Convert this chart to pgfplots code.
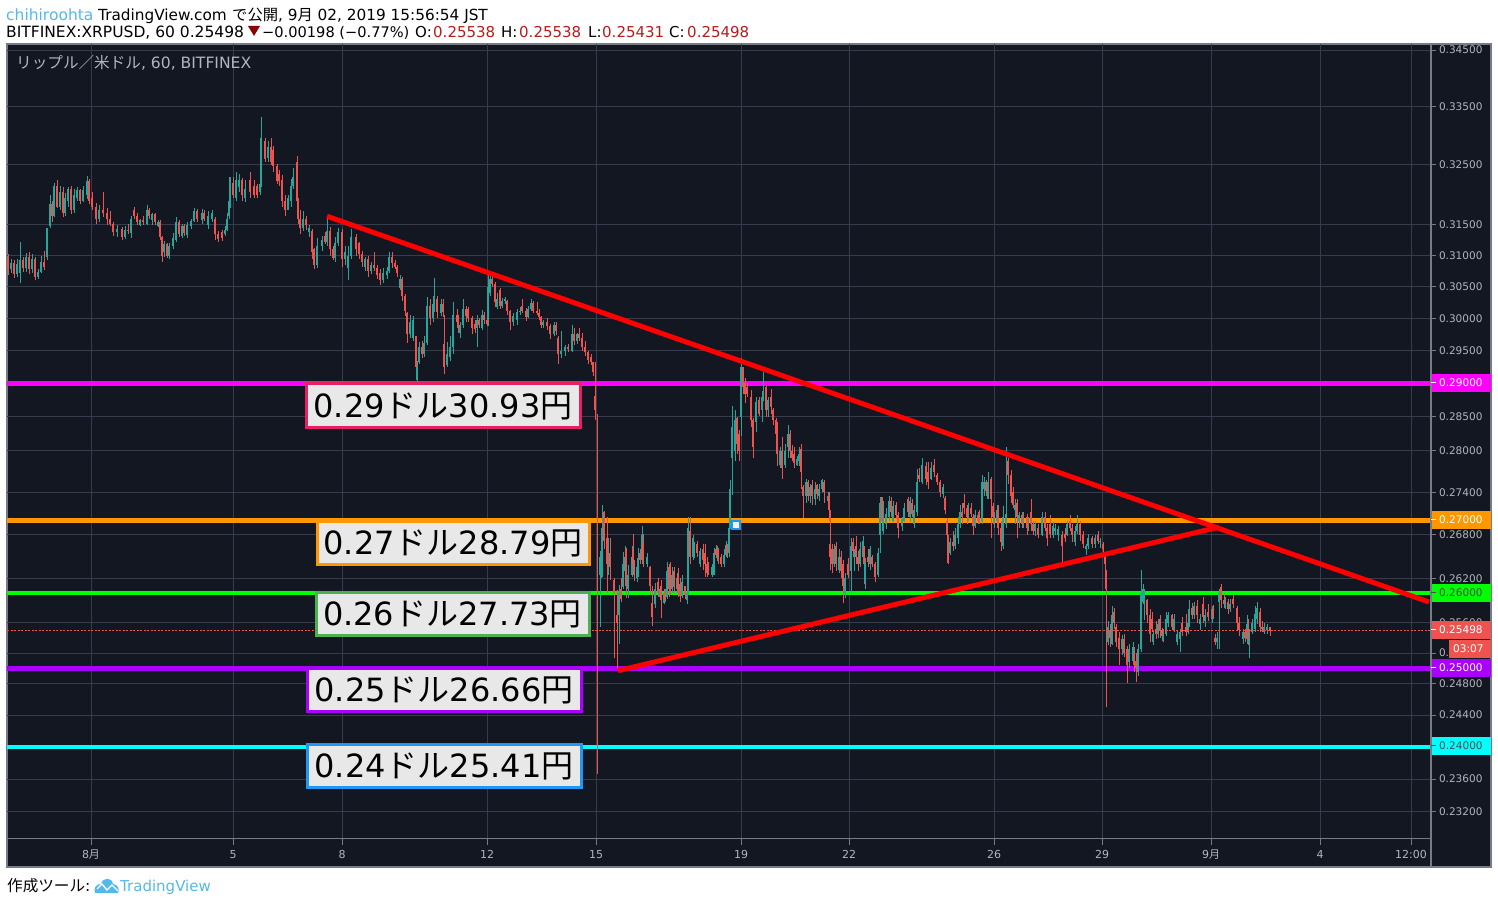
\documentclass[border=0pt]{standalone}
\usepackage{fontspec}
\usepackage{pgfplots}
\usepackage{pgfplotstable}
\pgfplotsset{compat=1.18}
\setmainfont{DejaVu Sans}
\newfontfamily\cjk{Noto Sans CJK JP}
\definecolor{bg}{HTML}{131722}
\definecolor{gridc}{HTML}{363C4E}
\definecolor{axc}{HTML}{787B86}
\definecolor{tickc}{HTML}{B2B5BE}
\definecolor{upc}{HTML}{26A69A}
\definecolor{dnc}{HTML}{EF5350}
\definecolor{tvblue}{HTML}{53B9EA}
\definecolor{darkred}{HTML}{B71C1C}
\definecolor{tridark}{HTML}{8B0000}
\definecolor{boxc}{HTML}{E8E8E8}
\definecolor{lmag}{HTML}{FF00FF}
\definecolor{lora}{HTML}{FF9800}
\definecolor{lgre}{HTML}{00FF00}
\definecolor{lpur}{HTML}{AA00FF}
\definecolor{lcya}{HTML}{00FFFF}
\definecolor{lpink}{HTML}{E91E63}
\definecolor{lgbox}{HTML}{4CAF50}
\definecolor{lblue}{HTML}{2196F3}
\definecolor{mfill}{HTML}{F0F3FA}
\pgfplotstableread{
x o h l c
8 .3092 .3102 .3068 .3078
11 .3078 .3095 .3072 .3088
14 .3088 .3092 .3064 .3070
17 .3070 .3094 .3066 .3086
20 .3072 .3122 .3056 .3092
23 .3092 .3098 .3074 .3080
26 .3080 .3104 .3074 .3098
29 .3098 .3106 .3070 .3078
32 .3078 .3102 .3072 .3094
35 .3094 .3098 .3060 .3066
38 .3066 .3078 .3062 .3074
41 .3074 .3100 .3072 .3090
44 .3090 .3108 .3076 .3082
47 .3098 .3145 .3092 .3145
50 .3148 .3199 .3145 .3185
52 .3185 .3190 .3155 .3165
54 .3165 .3219 .3162 .3215
57 .3215 .3225 .3178 .3180
60 .3180 .3215 .3175 .3205
63 .3205 .3212 .3162 .3170
65 .3170 .3203 .3165 .3195
68 .3190 .3213 .3180 .3210
71 .3210 .3215 .3168 .3175
74 .3175 .3210 .3170 .3200
77 .3195 .3212 .3190 .3208
80 .3208 .3210 .3185 .3190
83 .3190 .3215 .3188 .3208
87 .3200 .3231 .3192 .3222
89 .3222 .3226 .3185 .3190
92 .3195 .3205 .3175 .3180
96 .3180 .3186 .3152 .3160
99 .3160 .3183 .3155 .3175
103 .3175 .3205 .3162 .3170
107 .3170 .3178 .3150 .3160
110 .3160 .3172 .3148 .3152
113 .3152 .3155 .3132 .3138
117 .3138 .3150 .3130 .3144
122 .3144 .3146 .3125 .3130
125 .3130 .3148 .3126 .3142
128 .3142 .3152 .3135 .3140
131 .3136 .3165 .3128 .3160
134 .3175 .3180 .3160 .3165
137 .3165 .3170 .3150 .3155
140 .3150 .3160 .3148 .3158
143 .3158 .3165 .3150 .3155
147 .3152 .3182 .3150 .3175
149 .3175 .3178 .3160 .3165
152 .3158 .3170 .3150 .3168
155 .3168 .3170 .3150 .3155
158 .3148 .3158 .3146 .3155
160 .3155 .3158 .3125 .3130
162 .3130 .3132 .3090 .3100
164 .3105 .3124 .3098 .3118
167 .3118 .3120 .3096 .3100
169 .3100 .3120 .3094 .3115
173 .3115 .3136 .3110 .3128
176 .3125 .3162 .3122 .3155
179 .3155 .3158 .3130 .3135
182 .3132 .3152 .3128 .3148
184 .3148 .3152 .3132 .3136
187 .3134 .3155 .3128 .3150
191 .3148 .3160 .3144 .3156
194 .3156 .3178 .3154 .3172
197 .3172 .3176 .3155 .3160
202 .3158 .3176 .3152 .3170
204 .3170 .3174 .3156 .3160
208 .3150 .3172 .3144 .3165
212 .3160 .3175 .3155 .3170
215 .3160 .3162 .3125 .3135
218 .3135 .3140 .3122 .3126
222 .3138 .3142 .3124 .3128
225 .3135 .3148 .3132 .3142
227 .3142 .3170 .3140 .3160
229 .3165 .3229 .3160 .3190
230 .3186 .3229 .3178 .3220
233 .3220 .3230 .3195 .3200
236 .3195 .3238 .3190 .3225
239 .3212 .3235 .3205 .3225
242 .3225 .3228 .3190 .3200
245 .3195 .3225 .3188 .3210
250 .3225 .3238 .3195 .3205
254 .3215 .3225 .3195 .3200
257 .3215 .3218 .3195 .3200
260 .3205 .3235 .3200 .3218
261 .3215 .3331 .3212 .3295
265 .3290 .3295 .3255 .3260
268 .3262 .3290 .3255 .3280
271 .3280 .3295 .3250 .3255
273 .3275 .3282 .3238 .3248
277 .3248 .3252 .3218 .3222
279 .3235 .3242 .3215 .3222
282 .3225 .3232 .3180 .3190
285 .3190 .3200 .3165 .3175
288 .3175 .3200 .3175 .3195
291 .3190 .3226 .3180 .3215
293 .3215 .3245 .3210 .3230
297 .3255 .3265 .3185 .3190
298 .3190 .3195 .3152 .3160
300 .3160 .3175 .3135 .3145
303 .3145 .3172 .3140 .3160
306 .3160 .3165 .3142 .3150
309 .3138 .3150 .3130 .3145
312 .3140 .3143 .3095 .3105
314 .3110 .3112 .3078 .3085
317 .3085 .3128 .3080 .3115
322 .3115 .3132 .3108 .3125
325 .3132 .3138 .3118 .3122
327 .3122 .3163 .3115 .3140
330 .3140 .3147 .3100 .3110
333 .3110 .3115 .3092 .3096
335 .3096 .3130 .3090 .3120
338 .3120 .3145 .3115 .3138
342 .3138 .3143 .3082 .3095
345 .3095 .3115 .3085 .3105
348 .3080 .3115 .3061 .3100
351 .3100 .3143 .3095 .3130
356 .3130 .3135 .3100 .3110
359 .3120 .3122 .3095 .3102
362 .3102 .3108 .3082 .3090
365 .3082 .3098 .3075 .3095
368 .3095 .3100 .3066 .3075
371 .3075 .3090 .3070 .3085
374 .3085 .3105 .3075 .3080
377 .3080 .3085 .3062 .3068
380 .3072 .3078 .3052 .3060
383 .3060 .3080 .3056 .3072
387 .3068 .3082 .3062 .3075
389 .3075 .3105 .3072 .3098
392 .3098 .3105 .3080 .3088
395 .3088 .3092 .3078 .3082
397 .3082 .3084 .3065 .3072
400 .3048 .3068 .3045 .3062
402 .3062 .3066 .3028 .3035
405 .3035 .3038 .3004 .3012
407 .3008 .3010 .2962 .2975
410 .2975 .3005 .2970 .2995
413 .2970 .3004 .2965 .2998
416 .2972 .2973 .2911 .2925
417 .2905 .2935 .2901 .2928
419 .2932 .2963 .2930 .2955
422 .2955 .2965 .2938 .2945
424 .2945 .2972 .2940 .2962
427 .2962 .3033 .2958 .3020
430 .3020 .3030 .2990 .3000
433 .3000 .3036 .2995 .3022
434 .3015 .3064 .3010 .3030
437 .3030 .3036 .3000 .3010
441 .3008 .3030 .3003 .3022
443 .3022 .3030 .3002 .3010
444 .2960 .3005 .2915 .2925
447 .2928 .2963 .2925 .2945
450 .2940 .2972 .2935 .2955
453 .2955 .3026 .2945 .3005
457 .3005 .3015 .2990 .2995
458 .2995 .3005 .2978 .2985
460 .2978 .2995 .2970 .2990
463 .2990 .3031 .2985 .3015
466 .3015 .3020 .2995 .3003
468 .3015 .3018 .2995 .3000
472 .3000 .3003 .2976 .2985
475 .2992 .2998 .2978 .2984
477 .2985 .3005 .2955 .2998
479 .2998 .3000 .2985 .2990
482 .2985 .3014 .2982 .3006
484 .3006 .3010 .2992 .2998
487 .2998 .3005 .2988 .2992
488 .2995 .3069 .2988 .3050
490 .3040 .3067 .3035 .3062
492 .3062 .3069 .3050 .3055
495 .3055 .3057 .3018 .3025
497 .3018 .3040 .3015 .3030
500 .3045 .3048 .3015 .3020
502 .3020 .3032 .3016 .3028
505 .3028 .3034 .3022 .3030
507 .3028 .3029 .3006 .3012
510 .3012 .3014 .2982 .2995
513 .2995 .3008 .2988 .3004
517 .2998 .3015 .2990 .3010
520 .3010 .3018 .3005 .3012
522 .3020 .3030 .3008 .3012
526 .3012 .3016 .2996 .3002
528 .3002 .3020 .3000 .3015
531 .3015 .3030 .3012 .3024
533 .3024 .3028 .3008 .3012
537 .3012 .3025 .3005 .3008
539 .3008 .3015 .2997 .3002
541 .3002 .3004 .2985 .2990
543 .2990 .2998 .2985 .2995
547 .2995 .3000 .2982 .2988
550 .2988 .2992 .2968 .2975
554 .2975 .2995 .2972 .2990
556 .2990 .2994 .2974 .2980
558 .2970 .2972 .2930 .2945
561 .2945 .2980 .2938 .2950
565 .2950 .2958 .2942 .2955
568 .2955 .2960 .2948 .2952
572 .2950 .2989 .2948 .2975
574 .2975 .2985 .2958 .2965
577 .2965 .2978 .2960 .2975
579 .2975 .2985 .2965 .2970
582 .2970 .2978 .2950 .2955
585 .2955 .2965 .2942 .2948
588 .2948 .2950 .2930 .2936
591 .2940 .2945 .2928 .2932
593 .2932 .2933 .2912 .2918
595 .2881 .2932 .2845 .2860
597.6 .2660 .2855 .2366 .2640
600 .2624 .2658 .2555 .2650
601 .2624 .2660 .2620 .2655
602 .2625 .2722 .2622 .2690
604 .2712 .2714 .2660 .2672
607 .2675 .2705 .2600 .2640
608 .2640 .2676 .2625 .2658
610 .2655 .2675 .2618 .2635
614 .2618 .2621 .2514 .2600
617 .2571 .2604 .2499 .2560
619 .2570 .2611 .2532 .2600
621 .2605 .2620 .2588 .2592
623 .2608 .2656 .2605 .2640
625 .2630 .2665 .2612 .2650
626 .2660 .2662 .2594 .2610
628 .2605 .2638 .2594 .2625
632 .2625 .2665 .2622 .2650
633 .2660 .2682 .2628 .2640
634 .2640 .2645 .2617 .2625
637 .2620 .2640 .2615 .2635
638 .2635 .2662 .2622 .2648
640 .2655 .2660 .2640 .2645
642 .2645 .2692 .2640 .2680
643 .2668 .2682 .2635 .2645
647 .2640 .2655 .2635 .2650
650 .2635 .2637 .2597 .2610
652 .2586 .2610 .2556 .2568
655 .2585 .2614 .2580 .2605
658 .2615 .2620 .2595 .2600
660 .2595 .2610 .2590 .2605
661 .2610 .2618 .2566 .2590
664 .2586 .2606 .2585 .2600
665 .2603 .2606 .2588 .2592
667 .2595 .2642 .2592 .2630
669 .2636 .2640 .2595 .2605
670 .2630 .2642 .2598 .2610
672 .2605 .2635 .2600 .2625
674 .2630 .2636 .2600 .2608
677 .2605 .2628 .2600 .2620
678 .2625 .2634 .2595 .2605
680 .2612 .2621 .2588 .2596
682 .2596 .2624 .2594 .2615
685 .2610 .2610 .2592 .2598
687 .2590 .2608 .2585 .2600
688 .2600 .2705 .2598 .2690
690 .2685 .2705 .2640 .2650
693 .2650 .2680 .2645 .2675
694 .2655 .2670 .2648 .2665
697 .2668 .2672 .2650 .2655
700 .2640 .2662 .2635 .2658
703 .2660 .2668 .2632 .2645
705 .2655 .2668 .2622 .2640
707 .2640 .2650 .2622 .2628
708 .2635 .2642 .2625 .2630
712 .2625 .2640 .2622 .2636
714 .2625 .2662 .2625 .2655
716 .2660 .2666 .2648 .2652
717 .2650 .2664 .2644 .2660
718 .2660 .2662 .2640 .2645
721 .2650 .2654 .2635 .2640
724 .2640 .2660 .2635 .2652
726 .2652 .2672 .2650 .2666
727 .2665 .2667 .2648 .2655
729 .2655 .2697 .2650 .2690
730 .2690 .2758 .2688 .2745
732 .2790 .2866 .2737 .2835
735 .2800 .2860 .2785 .2845
737 .2848 .2850 .2795 .2810
739 .2825 .2830 .2785 .2800
741 .2850 .2938 .2822 .2925
743 .2925 .2925 .2885 .2895
745 .2900 .2908 .2870 .2885
747 .2895 .2900 .2880 .2885
751 .2880 .2890 .2835 .2845
753 .2845 .2848 .2790 .2805
756 .2842 .2880 .2827 .2872
759 .2875 .2880 .2852 .2855
762 .2860 .2888 .2842 .2880
763 .2875 .2918 .2873 .2885
766 .2895 .2897 .2850 .2860
768 .2860 .2880 .2850 .2875
771 .2880 .2892 .2855 .2865
773 .2860 .2863 .2838 .2845
776 .2845 .2848 .2820 .2825
777 .2838 .2842 .2778 .2795
780 .2780 .2805 .2775 .2800
782 .2800 .2820 .2760 .2775
785 .2780 .2810 .2775 .2800
788 .2805 .2838 .2790 .2825
790 .2825 .2830 .2790 .2800
792 .2800 .2808 .2785 .2790
794 .2795 .2805 .2775 .2782
797 .2780 .2792 .2778 .2788
799 .2785 .2806 .2778 .2795
801 .2803 .2810 .2745 .2770
803 .2748 .2750 .2703 .2735
806 .2735 .2760 .2725 .2755
808 .2755 .2758 .2728 .2735
810 .2735 .2752 .2725 .2748
812 .2750 .2758 .2722 .2735
815 .2730 .2755 .2722 .2745
817 .2750 .2752 .2730 .2738
819 .2735 .2752 .2728 .2745
822 .2745 .2760 .2740 .2758
824 .2755 .2758 .2725 .2740
828 .2728 .2740 .2722 .2735
829 .2735 .2740 .2700 .2715
830 .2668 .2715 .2631 .2650
832 .2660 .2668 .2628 .2640
834 .2640 .2668 .2635 .2660
836 .2665 .2670 .2630 .2640
839 .2632 .2660 .2628 .2650
841 .2650 .2657 .2620 .2630
843 .2640 .2645 .2586 .2610
845 .2600 .2628 .2594 .2620
848 .2640 .2648 .2620 .2625
851 .2630 .2676 .2600 .2665
853 .2670 .2675 .2650 .2658
854 .2650 .2660 .2630 .2655
856 .2665 .2678 .2640 .2650
858 .2650 .2658 .2630 .2640
860 .2640 .2670 .2635 .2660
863 .2650 .2678 .2645 .2672
864 .2665 .2665 .2612 .2640
865 .2615 .2648 .2605 .2640
868 .2650 .2660 .2635 .2642
870 .2640 .2665 .2632 .2660
872 .2650 .2652 .2635 .2640
875 .2640 .2642 .2615 .2622
878 .2625 .2662 .2622 .2655
880 .2680 .2733 .2655 .2725
882 .2733 .2733 .2695 .2700
883 .2685 .2728 .2682 .2715
886 .2695 .2718 .2688 .2710
889 .2705 .2735 .2700 .2728
891 .2728 .2733 .2705 .2712
893 .2700 .2728 .2698 .2720
896 .2722 .2726 .2702 .2708
898 .2708 .2712 .2675 .2690
902 .2692 .2705 .2686 .2702
904 .2700 .2725 .2698 .2718
908 .2730 .2733 .2705 .2712
910 .2705 .2733 .2698 .2728
912 .2725 .2730 .2705 .2710
914 .2695 .2722 .2690 .2715
917 .2712 .2773 .2706 .2755
919 .2765 .2775 .2755 .2760
922 .2755 .2790 .2752 .2780
926 .2778 .2783 .2750 .2760
928 .2770 .2783 .2745 .2755
931 .2760 .2783 .2758 .2775
934 .2780 .2788 .2762 .2770
937 .2765 .2768 .2750 .2755
940 .2755 .2758 .2733 .2740
943 .2738 .2752 .2732 .2748
945 .2732 .2735 .2710 .2715
947 .2700 .2704 .2641 .2680
948 .2675 .2680 .2640 .2655
950 .2655 .2675 .2652 .2670
953 .2670 .2685 .2658 .2665
955 .2665 .2690 .2660 .2680
958 .2675 .2705 .2668 .2695
960 .2695 .2722 .2690 .2712
962 .2712 .2725 .2695 .2705
964 .2725 .2738 .2710 .2718
967 .2718 .2722 .2695 .2705
968 .2705 .2725 .2700 .2718
971 .2718 .2725 .2705 .2710
973 .2705 .2710 .2680 .2692
975 .2692 .2715 .2690 .2708
978 .2708 .2712 .2695 .2700
979 .2710 .2715 .2695 .2700
982 .2700 .2765 .2695 .2755
984 .2745 .2762 .2735 .2755
986 .2755 .2758 .2735 .2742
988 .2730 .2770 .2730 .2755
991 .2760 .2762 .2675 .2730
993 .2720 .2725 .2695 .2705
994 .2700 .2712 .2690 .2705
997 .2700 .2722 .2695 .2715
998 .2715 .2722 .2680 .2690
1001 .2690 .2700 .2658 .2670
1003 .2665 .2720 .2660 .2705
1006 .2695 .2806 .2690 .2710
1008 .2785 .2790 .2752 .2765
1011 .2765 .2772 .2725 .2735
1013 .2740 .2748 .2718 .2722
1015 .2715 .2730 .2695 .2722
1017 .2725 .2730 .2675 .2705
1019 .2700 .2712 .2690 .2708
1022 .2708 .2712 .2690 .2695
1023 .2695 .2712 .2690 .2705
1027 .2705 .2710 .2680 .2690
1028 .2690 .2705 .2685 .2700
1031 .2712 .2730 .2685 .2695
1033 .2695 .2700 .2680 .2685
1035 .2685 .2700 .2678 .2695
1038 .2690 .2695 .2675 .2680
1042 .2680 .2712 .2678 .2705
1045 .2705 .2712 .2685 .2690
1047 .2690 .2695 .2665 .2675
1050 .2695 .2708 .2675 .2682
1053 .2680 .2698 .2675 .2692
1055 .2685 .2695 .2680 .2690
1058 .2680 .2692 .2672 .2688
1062 .2680 .2685 .2635 .2665
1065 .2682 .2690 .2670 .2675
1067 .2680 .2700 .2678 .2695
1070 .2700 .2708 .2685 .2690
1072 .2690 .2695 .2670 .2680
1075 .2670 .2692 .2665 .2685
1077 .2685 .2708 .2682 .2695
1080 .2695 .2700 .2672 .2680
1083 .2680 .2685 .2662 .2668
1086 .2660 .2668 .2652 .2665
1088 .2665 .2682 .2660 .2675
1092 .2675 .2678 .2662 .2668
1095 .2668 .2680 .2662 .2675
1098 .2680 .2685 .2668 .2672
1100 .2670 .2675 .2662 .2672
1103 .2668 .2670 .2655 .2660
1105 .2655 .2655 .2628 .2640
1106 .2630 .2632 .2450 .2605
1108 .2535 .2562 .2530 .2555
1110 .2550 .2558 .2528 .2540
1112 .2532 .2582 .2530 .2570
1114 .2575 .2580 .2552 .2560
1116 .2555 .2558 .2528 .2535
1119 .2540 .2548 .2505 .2525
1122 .2525 .2544 .2518 .2538
1124 .2538 .2545 .2515 .2520
1127 .2525 .2529 .2481 .2505
1129 .2508 .2532 .2500 .2525
1133 .2510 .2535 .2505 .2528
1134 .2520 .2528 .2495 .2505
1136 .2510 .2520 .2482 .2500
1138 .2495 .2532 .2490 .2525
1141 .2525 .2632 .2522 .2600
1143 .2588 .2612 .2585 .2605
1144 .2590 .2605 .2564 .2598
1147 .2590 .2592 .2560 .2570
1150 .2570 .2578 .2535 .2545
1152 .2565 .2574 .2548 .2552
1153 .2535 .2550 .2530 .2545
1156 .2552 .2562 .2538 .2545
1158 .2545 .2565 .2540 .2558
1160 .2565 .2570 .2540 .2550
1162 .2550 .2553 .2536 .2542
1163 .2538 .2552 .2534 .2548
1166 .2545 .2575 .2542 .2565
1168 .2560 .2575 .2555 .2570
1172 .2570 .2572 .2550 .2555
1174 .2550 .2572 .2548 .2565
1177 .2535 .2550 .2530 .2545
1180 .2538 .2552 .2522 .2548
1182 .2560 .2568 .2542 .2548
1186 .2555 .2572 .2542 .2548
1188 .2548 .2565 .2545 .2560
1189 .2560 .2590 .2555 .2578
1192 .2580 .2586 .2565 .2570
1194 .2570 .2588 .2565 .2582
1197 .2582 .2590 .2560 .2570
1200 .2558 .2572 .2550 .2565
1203 .2585 .2595 .2560 .2568
1205 .2562 .2578 .2555 .2570
1208 .2575 .2585 .2562 .2568
1212 .2565 .2582 .2560 .2578
1213 .2578 .2584 .2565 .2570
1215 .2540 .2545 .2530 .2535
1217 .2535 .2548 .2525 .2540
1219 .2588 .2605 .2525 .2600
1221 .2608 .2612 .2580 .2590
1224 .2590 .2600 .2582 .2585
1225 .2580 .2595 .2578 .2590
1228 .2588 .2592 .2572 .2578
1230 .2578 .2592 .2575 .2585
1233 .2592 .2598 .2580 .2585
1237 .2580 .2582 .2550 .2560
1239 .2560 .2568 .2542 .2550
1243 .2538 .2552 .2532 .2548
1245 .2548 .2552 .2535 .2540
1247 .2538 .2570 .2532 .2558
1248 .2555 .2565 .2530 .2538
1249 .2535 .2552 .2514 .2548
1252 .2548 .2565 .2545 .2560
1255 .2552 .2582 .2548 .2572
1257 .2565 .2588 .2558 .2580
1260 .2575 .2580 .2548 .2555
1262 .2555 .2562 .2548 .2552
1264 .2548 .2560 .2545 .2555
1267 .2550 .2558 .2545 .2555
1270 .25538 .25538 .25431 .25498
}\candles
\newcommand{\J}[1]{{\cjk #1}}
\begin{document}
\begin{tikzpicture}
\path[use as bounding box] (0,0) rectangle (1498pt,904pt);
\begin{axis}[
  at={(7pt,37pt)}, anchor=south west,
  scale only axis, width=1484pt, height=823pt,
  xmin=7, xmax=1491,
  ymode=log, ymin=0.22543, ymax=0.34608,
  axis background/.style={fill=bg},
  axis line style={draw=axc,line width=1.2pt},
  major tick length=0pt, minor tick length=0pt,
  log ticks with fixed point,
  xtick={91,233,342,487,596,741,849,994,1102,1211,1320,1411},
  xticklabels={8\J{月},5,8,12,15,19,22,26,29,9\J{月},4,12:00},
  ytick={0.345,0.335,0.325,0.315,0.31,0.305,0.3,0.295,0.29,0.285,0.28,0.274,0.27,0.268,0.262,0.26,0.256,0.252,0.25,0.248,0.244,0.24,0.236,0.232},
  yticklabels={0.34500,0.33500,0.32500,0.31500,0.31000,0.30500,0.30000,0.29500,0.29000,0.28500,0.28000,0.27400,0.27000,0.26800,0.26200,0.26000,0.25600,0.25200,0.25000,0.24800,0.24400,0.24000,0.23600,0.23200},
  yticklabel pos=right,
  tick label style={font=\fontsize{10.5}{12}\selectfont, color=tickc, inner sep=0pt, outer sep=0pt},
  yticklabel style={anchor=west, xshift=-52pt},
  xticklabel style={anchor=center, yshift=12.5pt, font=\fontsize{11}{12}\selectfont},
]
% grid
\pgfplotsinvokeforeach{0.345,0.335,0.325,0.315,0.31,0.305,0.3,0.295,0.285,0.28,0.274,0.268,0.262,0.256,0.252,0.248,0.244,0.236,0.232}{
  \draw[gridc,line width=1pt] (axis cs:7,#1) -- (axis cs:1431,#1);
  \draw[axc,line width=1pt] (axis cs:1431,#1) -- (axis cs:1436,#1);
}
\pgfplotsinvokeforeach{91,233,342,487,596,741,849,994,1102,1211,1320,1411}{
  \draw[gridc,line width=1pt] (axis cs:#1,0.34608) -- (axis cs:#1,0.2288);
  \draw[axc,line width=1pt] (axis cs:#1,0.2288) -- (axis cs:#1,0.2280);
}
% level lines
\addplot[color=lmag,line width=4.4pt] coordinates {(7,0.29)(1431,0.29)};
\addplot[color=lora,line width=4.6pt] coordinates {(7,0.27)(1431,0.27)};
\addplot[color=lgre,line width=4.4pt] coordinates {(7,0.26)(1431,0.26)};
\addplot[color=lpur,line width=4.4pt] coordinates {(7,0.25)(1431,0.25)};
\addplot[color=lcya,line width=4.4pt] coordinates {(7,0.24)(1431,0.24)};
% candles
\addplot[draw=none,mark=none,restrict expr to domain={\thisrow{c}-\thisrow{o}}{0:1},
  error bars/.cd,y dir=plus,y explicit,error mark=none,error bar style={line width=1pt,color=upc}]
  table[x=x,y=l,y error plus expr=\thisrow{h}-\thisrow{l}] {\candles};
\addplot[draw=none,mark=none,restrict expr to domain={\thisrow{c}-\thisrow{o}}{-1:0},
  error bars/.cd,y dir=plus,y explicit,error mark=none,error bar style={line width=1pt,color=dnc}]
  table[x=x,y=l,y error plus expr=\thisrow{h}-\thisrow{l}] {\candles};
\addplot[draw=none,mark=none,restrict expr to domain={\thisrow{c}-\thisrow{o}}{0:1},
  error bars/.cd,y dir=plus,y explicit,error mark=none,error bar style={line width=1.7pt,color=upc}]
  table[x=x,y=o,y error plus expr=\thisrow{c}-\thisrow{o}] {\candles};
\addplot[draw=none,mark=none,restrict expr to domain={\thisrow{c}-\thisrow{o}}{-1:0},
  error bars/.cd,y dir=plus,y explicit,error mark=none,error bar style={line width=1.7pt,color=dnc}]
  table[x=x,y=c,y error plus expr=\thisrow{o}-\thisrow{c}] {\candles};
% last price
\addplot[color=dnc,line width=0.8pt,dash pattern=on 2pt off 1.5pt] coordinates {(7,0.25498)(1431,0.25498)};
% trend lines
\addplot[color=red,line width=5pt] coordinates {(327,0.3164)(1429,0.2588)};
\addplot[color=red,line width=5pt] coordinates {(618,0.2497)(1219,0.2691)};
% axis separators
\draw[axc,line width=1.2pt] (axis cs:7,0.2288) -- (axis cs:1431,0.2288);
\draw[axc,line width=1.2pt] (axis cs:1431,0.34608) -- (axis cs:1431,0.22543);
\end{axis}
\begin{scope}[shift={(0,904pt)},x=1pt,y=-1pt]
% annotation boxes
\newcommand{\lab}[7]{%
  \draw[draw=#5,fill=boxc,line width=3pt] (#1,#2) rectangle (#3,#4);
  \node[anchor=center,inner sep=0pt,black,font=\fontsize{32}{36}\selectfont] at ({(#1+#3)/2},{(#2+#4)/2}) {#6\J{ドル}#7\J{円}};}
\lab{306}{384}{580}{428}{lpink}{0.29}{30.93}
\lab{317}{522}{589}{565}{lora}{0.27}{28.79}
\lab{316}{593}{589}{636}{lgbox}{0.26}{27.73}
\lab{307}{669}{581}{712}{lpur}{0.25}{26.66}
\lab{307}{745}{581}{788}{lblue}{0.24}{25.41}
% marker
\draw[draw=lblue,fill=mfill,line width=1.4pt] (732,521) rectangle (740,529);
% right-hand price labels
\newcommand{\plab}[6]{%
  \fill[#2] (#4,#1) rectangle (1491,#3);
  \draw[line width=1pt,#5] (1431,{(#1+#3)/2}) -- (1436,{(#1+#3)/2});
  \node[anchor=west,inner sep=0pt,text=#5,font=\fontsize{10.5}{12}\selectfont] at (1439,{(#1+#3)/2}) {#6};}
\plab{374}{lmag}{392}{1432}{white}{0.29000}
\plab{511}{lora}{529}{1432}{white}{0.27000}
\plab{584}{lgre}{602}{1432}{black!70}{0.26000}
\plab{621}{dnc}{639}{1432}{white}{0.25498}
\fill[dnc] (1449,640) rectangle (1491,658);
\node[anchor=west,inner sep=0pt,text=white,font=\fontsize{10.5}{12}\selectfont] at (1453,649) {03:07};
\plab{659}{lpur}{677}{1432}{white}{0.25000}
\plab{737}{lcya}{755}{1432}{black!70}{0.24000}
% header text
\node[anchor=base west,inner sep=0pt,font=\fontsize{15.5}{17}\selectfont] at (6,21) {\textcolor{tvblue}{chihiroohta}};
\node[anchor=base west,inner sep=0pt,font=\fontsize{15.3}{17}\selectfont,black] at (98,21) {TradingView.com};
\node[anchor=base west,inner sep=0pt,font=\fontsize{15.3}{17}\selectfont,black] at (232,21) {\J{で公開}, 9\J{月} 02, 2019 15:56:54 JST};
\node[anchor=base west,inner sep=0pt,font=\fontsize{15.5}{17}\selectfont,black] at (6,38) {BITFINEX:XRPUSD, 60 0.25498};
\fill[tridark] (248,26) -- (260,26) -- (254,36) -- cycle;
\node[anchor=base west,inner sep=0pt,font=\fontsize{14.6}{17}\selectfont,black] at (262,38) {−0.00198 (−0.77\%)};
\foreach \xa/\xb/\n/\v in {415/433/O:/0.25538,501/519/H:/0.25538,588/602/L:/0.25431,669/687/C:/0.25498}{
  \node[anchor=base west,inner sep=0pt,font=\fontsize{15}{17}\selectfont,black] at (\xa,38) {\n};
  \node[anchor=base west,inner sep=0pt,font=\fontsize{15}{17}\selectfont,text=darkred] at (\xb,38) {\v};
}
% pane title
\node[anchor=base west,inner sep=0pt,font=\fontsize{15.6}{17}\selectfont,text=tickc] at (16,69) {\J{リップル／米ドル}, 60, BITFINEX};
% footer
\node[anchor=base west,inner sep=0pt,font=\fontsize{15.6}{17}\selectfont,black] at (7,892) {\J{作成ツール}:};
\fill[tvblue] (95,893) .. controls (93,887) and (97,884) .. (101,884) .. controls (103,877) and (112,877) .. (113,884) .. controls (118,884) and (120,890) .. (118,893) -- cycle;
\draw[white,line width=1.4pt] (97,889) -- (102,884) -- (107,890) -- (112,885) -- (118,891);
\node[anchor=base west,inner sep=0pt,font=\fontsize{15}{17}\selectfont,text=tvblue] at (120,892) {TradingView};
\end{scope}
\end{tikzpicture}
\end{document}
